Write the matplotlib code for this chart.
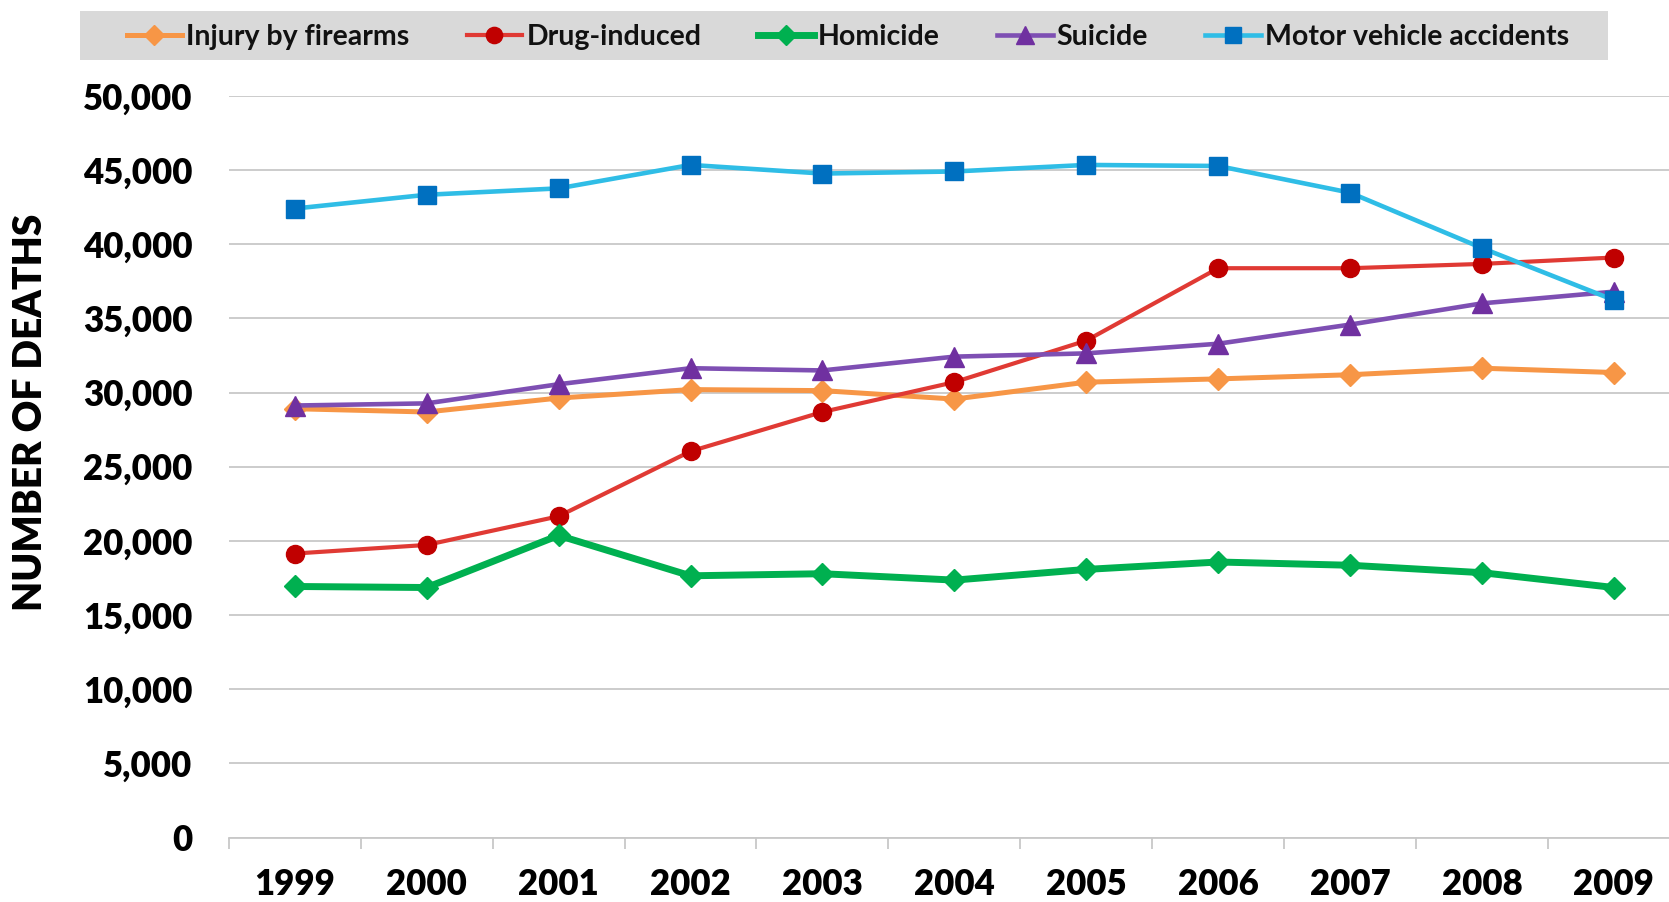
import matplotlib
matplotlib.use("Agg")
import matplotlib.pyplot as plt
from matplotlib.patches import Rectangle
from matplotlib.ticker import FuncFormatter, FixedLocator

plt.rcParams['font.family'] = ['Lato', 'DejaVu Sans']

years = ['1999', '2000', '2001', '2002', '2003', '2004', '2005', '2006', '2007', '2008', '2009']
firearms = [28910, 28690, 29630, 30200, 30130, 29560, 30700, 30920, 31200, 31640, 31350]
drug = [19150, 19730, 21660, 26040, 28690, 30700, 33500, 38380, 38380, 38670, 39100]
homicide = [16930, 16860, 20370, 17650, 17790, 17360, 18080, 18580, 18360, 17860, 16860]
suicide = [29125, 29270, 30560, 31640, 31490, 32420, 32640, 33290, 34580, 36010, 36800]
motor = [42400, 43330, 43760, 45340, 44760, 44900, 45340, 45270, 43470, 39740, 36230]
series_names = ['Injury by firearms', 'Drug-induced', 'Homicide', 'Suicide', 'Motor vehicle accidents']
y_ticks = [0, 5000, 10000, 15000, 20000, 25000, 30000, 35000, 40000, 45000, 50000]

fig = plt.figure(figsize=(16.69, 9.02), dpi=100)
ax = fig.add_axes([0.1371, 0.0713, 0.8694, 0.8225])

x = list(range(len(years)))
styles = [
    dict(color='#F79646', lw=3.6, marker='D', ms=11.5, mfc='#F79646', mec='#F79646'),
    dict(color='#E03A34', lw=3.0, marker='o', ms=13, mfc='#C00000', mec='#C00000'),
    dict(color='#00B050', lw=5.0, marker='D', ms=11.5, mfc='#00B050', mec='#00B050'),
    dict(color='#7E4FB3', lw=3.3, marker='^', ms=15, mfc='#7030A0', mec='#7030A0'),
    dict(color='#2FBDE6', lw=3.3, marker='s', ms=13.5, mfc='#0070C0', mec='#0070C0'),
]
data = [firearms, drug, homicide, suicide, motor]
handles = []
for name, vals, st in zip(series_names, data, styles):
    h, = ax.plot(x, vals, label=name, markeredgewidth=1, zorder=3, **st)
    handles.append(h)

ax.set_xlim(-0.5, len(years) - 0.5)
ax.set_ylim(0, 50000)
ax.set_yticks(y_ticks)
ax.yaxis.set_major_formatter(FuncFormatter(lambda v, p: f'{int(v):,}'))
ax.set_xticks(x)
ax.set_xticklabels(years)
ax.xaxis.set_minor_locator(FixedLocator([i - 0.5 for i in range(len(years) + 1)]))

ax.grid(axis='y', color='#C8C8C8', lw=1.3, zorder=0)
ax.set_axisbelow(True)
for s in ['top', 'right', 'left']:
    ax.spines[s].set_visible(False)
ax.spines['bottom'].set_color('#C8C8C8')
ax.spines['bottom'].set_linewidth(1.3)

ax.tick_params(axis='y', length=0, pad=26, labelsize=25)
ax.tick_params(axis='x', which='major', length=0, pad=22, labelsize=25)
ax.tick_params(axis='x', which='minor', length=8, width=1.3, color='#C8C8C8', direction='out')
for lab in ax.get_xticklabels() + ax.get_yticklabels():
    lab.set_fontweight('heavy')

fig.text(0.018, 0.543, 'NUMBER OF DEATHS', rotation=90, ha='center', va='center',
         fontsize=28, fontweight='heavy')

# legend background band
fig.patches.append(Rectangle((0.0478, 0.9339), 0.9158, 0.0543, transform=fig.transFigure,
                             facecolor='#D9D9D9', edgecolor='none', zorder=0))
leg = fig.legend(handles=handles, loc='center', bbox_to_anchor=(0.508, 0.9595), ncol=5,
                 frameon=False, prop=dict(size=20.5, weight='bold'), handlelength=1.95,
                 handletextpad=0.15, columnspacing=2.0, numpoints=1, markerscale=0.9)
for t in leg.get_texts():
    t.set_color('#111111')

fig.savefig('out.png', dpi=100)
